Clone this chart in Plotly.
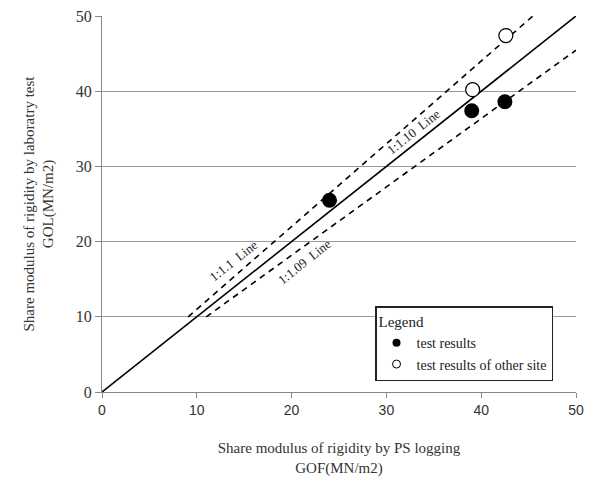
import plotly.graph_objects as go

# Data
filled_x = [24.0, 39.0, 42.5]
filled_y = [25.5, 37.4, 38.6]
open_x = [39.1, 42.6]
open_y = [40.2, 47.4]

# Reference lines (GOF, GOL)
line_1_1_x = [0, 50]
line_1_1_y = [0, 50]
upper_x = [9.09, 45.45]
upper_y = [10, 50]
lower_x = [11, 50]
lower_y = [10, 45.45]

tick_vals = [0, 10, 20, 30, 40, 50]

serif = "Liberation Serif"
sans = "Liberation Sans"

fig = go.Figure()
fig.add_trace(go.Scatter(x=line_1_1_x, y=line_1_1_y, mode="lines",
                         line=dict(color="black", width=1.6), showlegend=False))
fig.add_trace(go.Scatter(x=upper_x, y=upper_y, mode="lines",
                         line=dict(color="black", width=1.6, dash="6px,5px"), showlegend=False))
fig.add_trace(go.Scatter(x=lower_x, y=lower_y, mode="lines",
                         line=dict(color="black", width=1.6, dash="6px,5px"), showlegend=False))
fig.add_trace(go.Scatter(x=filled_x, y=filled_y, mode="markers",
                         marker=dict(color="black", size=15, symbol="circle"), showlegend=False))
fig.add_trace(go.Scatter(x=open_x, y=open_y, mode="markers",
                         marker=dict(color="white", size=14, symbol="circle",
                                     line=dict(color="black", width=1.2)), showlegend=False))
# legend entries
fig.add_trace(go.Scatter(x=[None], y=[None], mode="markers", name="test results",
                         marker=dict(color="black", size=8)))
fig.add_trace(go.Scatter(x=[None], y=[None], mode="markers", name="test results of other site",
                         marker=dict(color="white", size=8, line=dict(color="black", width=1))))

ann_font = dict(family=serif, size=13, color="#222")
fig.add_annotation(x=13.9, y=17.5, text="1:1.1&nbsp;&nbsp;Line", showarrow=False, textangle=-38.5, font=ann_font)
fig.add_annotation(x=21.4, y=17.3, text="1:1.09&nbsp;&nbsp;Line", showarrow=False, textangle=-38.5, font=ann_font)
fig.add_annotation(x=32.9, y=34.6, text="1:1.10&nbsp;&nbsp;Line", showarrow=False, textangle=-38.5, font=ann_font)

fig.update_layout(
    width=592, height=477,
    margin=dict(l=102, r=16, t=16, b=85, autoexpand=False),
    paper_bgcolor="white", plot_bgcolor="white",
    font=dict(family=serif, size=14, color="#333"),
    legend=dict(x=0.576, y=0.228, xanchor="left", yanchor="top",
                bgcolor="white", bordercolor="#222", borderwidth=1.5,
                title=dict(text="Legend", font=dict(family=serif, size=15)),
                font=dict(family=serif, size=14, color="#222"),
                itemwidth=30, tracegroupgap=0),
    showlegend=True,
)
fig.update_xaxes(range=[0, 50], tickvals=tick_vals, showgrid=False, zeroline=False, automargin=False,
                 showline=True, linecolor="#888", linewidth=1, ticks="outside", ticklen=5,
                 tickcolor="#888", tickfont=dict(family=sans, size=14, color="#333"),
                 title=dict(text="Share modulus of rigidity by PS logging<br>GOF(MN/m2)",
                            font=dict(family=serif, size=15, color="#333"), standoff=26))
fig.update_yaxes(range=[0, 50], tickvals=tick_vals, showgrid=True, gridcolor="#999", gridwidth=1,
                 zeroline=False, showline=True, linecolor="#888", linewidth=1, ticks="outside",
                 automargin=False,
                 ticklen=6, tickcolor="#888", tickfont=dict(family=serif, size=16, color="#333"),
                 title=dict(text="Share modulus of rigidity by laboratry test<br>GOL(MN/m2)",
                            font=dict(family=serif, size=15, color="#333"), standoff=18))

fig.write_html("out.html", config={"displayModeBar": False},
               post_script="document.body.style.margin='0';")
